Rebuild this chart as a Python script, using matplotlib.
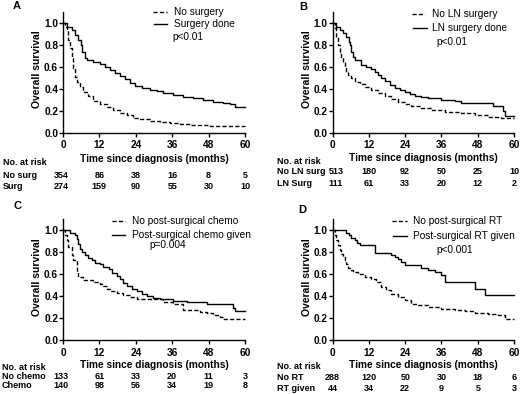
import matplotlib
matplotlib.use("Agg")
import matplotlib.pyplot as plt
from matplotlib.lines import Line2D
from matplotlib import transforms

W, H = 520, 394
plt.rcParams['font.family'] = ['Liberation Sans', 'DejaVu Sans']
plt.rcParams['font.size'] = 7.3

months = [0, 12, 24, 36, 48, 60]
y_ticks = [0.0, 0.2, 0.4, 0.6, 0.8, 1.0]

# --- A: surgery ---
a_nosurg_t = [0, 0.7, 1.2, 1.8, 2.3, 2.9, 3.4, 4.0, 4.5, 5.6, 6.7, 8.4, 10, 12.2, 14.4, 16.6, 18.8,
              21, 23.2, 25.4, 28.7, 32, 35.3, 38.6, 41.9, 45.2, 48.5, 51.8, 60]
a_nosurg_s = [1.0, 0.96, 0.93, 0.84, 0.77, 0.68, 0.59, 0.51, 0.46, 0.42, 0.37, 0.33, 0.29, 0.26, 0.23,
              0.206, 0.182, 0.161, 0.136, 0.122, 0.108, 0.097, 0.088, 0.081, 0.073, 0.068, 0.062, 0.06, 0.06]
a_surg_t = [0, 1.4, 2.9, 4.0, 5.1, 5.8, 6.2, 7.3, 7.8, 10, 12.2, 13.8, 15.5, 17.1, 18.8, 20.4, 22.1,
            23.7, 25.9, 28.7, 30.9, 33.1, 36.4, 39.7, 43, 46.3, 49.6, 52.9, 55, 56.7, 60]
a_surg_s = [1.0, 0.964, 0.933, 0.888, 0.842, 0.797, 0.736, 0.682, 0.661, 0.639, 0.621, 0.6, 0.57,
            0.539, 0.515, 0.488, 0.448, 0.427, 0.409, 0.388, 0.379, 0.358, 0.342, 0.327, 0.312,
            0.297, 0.282, 0.273, 0.258, 0.236, 0.236]
a_risk_no = [354, 86, 38, 16, 8, 5]
a_risk_yes = [274, 159, 90, 55, 30, 10]

# --- B: lymph node surgery ---
b_noln_t = [0, 0.66, 1.2, 1.76, 2.3, 2.9, 3.4, 4.0, 4.5, 5.1, 6.2, 7.3, 8.9, 10.6, 12.8, 15, 17.2,
            19.4, 21.6, 23.8, 26, 29.3, 32.6, 37, 42.6, 47, 51.4, 55.8, 60]
b_noln_s = [1.0, 0.948, 0.873, 0.797, 0.736, 0.691, 0.645, 0.6, 0.555, 0.524, 0.494, 0.464, 0.439,
            0.418, 0.388, 0.362, 0.334, 0.308, 0.283, 0.26, 0.243, 0.22, 0.207, 0.19, 0.175, 0.158,
            0.14, 0.13, 0.13]
b_ln_t = [0, 1.2, 2.3, 3.4, 4.5, 5.3, 5.6, 6.2, 6.7, 7.5, 9.5, 11.1, 12.8, 13.9, 15, 16.1, 17.2,
          18.9, 20.5, 22.2, 23.8, 25.5, 27.1, 29.3, 31.5, 35.9, 40.4, 42.6, 53, 56.3, 57.1, 60]
b_ln_s = [1.0, 0.964, 0.933, 0.903, 0.873, 0.827, 0.797, 0.736, 0.691, 0.661, 0.615, 0.595, 0.576,
          0.555, 0.524, 0.494, 0.47, 0.438, 0.41, 0.388, 0.37, 0.352, 0.335, 0.322, 0.312, 0.3,
          0.285, 0.273, 0.245, 0.195, 0.152, 0.152]
b_risk_no = [513, 180, 92, 50, 25, 10]
b_risk_yes = [111, 61, 33, 20, 12, 2]

# --- C: post-surgical chemo ---
c_nochemo_t = [0, 0.66, 1.2, 1.76, 2.86, 3.4, 4.5, 5.1, 6.7, 10, 12.2, 13.3, 14.4, 15.5, 17.7, 19.9,
               22.1, 24.3, 30.9, 33, 36.4, 39.7, 45.2, 47.4, 49.6, 51.8, 52.9, 60]
c_nochemo_s = [1.0, 0.955, 0.909, 0.848, 0.773, 0.727, 0.621, 0.576, 0.545, 0.53, 0.515, 0.494, 0.47,
               0.445, 0.43, 0.415, 0.394, 0.379, 0.373, 0.348, 0.333, 0.273, 0.258, 0.248, 0.233,
               0.212, 0.197, 0.197]
c_chemo_t = [0, 2.3, 4.0, 4.5, 5.1, 5.6, 6.2, 7.3, 8.4, 9.5, 10.5, 12.2, 13.3, 15, 16, 17.7, 18.8,
             19.9, 21, 22.6, 24.3, 25.9, 27.6, 29.8, 32, 36.4, 40.8, 47.4, 56.2, 56.8, 60]
c_chemo_s = [1.0, 0.976, 0.955, 0.924, 0.879, 0.833, 0.803, 0.775, 0.748, 0.726, 0.706, 0.692, 0.67,
             0.645, 0.615, 0.585, 0.553, 0.52, 0.49, 0.462, 0.445, 0.42, 0.4, 0.385, 0.372, 0.36,
             0.35, 0.333, 0.29, 0.265, 0.265]
c_risk_no = [133, 61, 33, 20, 11, 3]
c_risk_yes = [140, 98, 56, 34, 19, 8]

# --- D: post-surgical RT ---
d_nort_t = [0, 0.66, 1.2, 1.8, 2.3, 2.9, 3.4, 4.0, 4.5, 5.1, 5.6, 6.7, 8.4, 10.6, 12.8, 14.4, 16.1,
            17.8, 19.4, 21.6, 23.8, 26, 28.2, 31.5, 35.9, 40.4, 43.7, 47, 51.4, 54.7, 56.9, 60]
d_nort_s = [1.0, 0.955, 0.909, 0.864, 0.818, 0.788, 0.758, 0.727, 0.697, 0.658, 0.636, 0.621, 0.606,
            0.576, 0.555, 0.53, 0.485, 0.455, 0.424, 0.394, 0.364, 0.333, 0.318, 0.303, 0.288,
            0.279, 0.264, 0.252, 0.242, 0.227, 0.19, 0.19]
d_rt_t = [0, 4.5, 5.3, 6.2, 7.3, 8.2, 8.9, 13.9, 19.4, 20.5, 21.6, 22.7, 23.8, 29.3, 31.5, 33.7,
          35.9, 37, 47, 50.3, 60]
d_rt_s = [1.0, 0.976, 0.955, 0.93, 0.91, 0.888, 0.87, 0.797, 0.779, 0.758, 0.736, 0.712, 0.682,
          0.658, 0.636, 0.621, 0.597, 0.53, 0.47, 0.41, 0.41]
d_risk_no = [288, 120, 50, 30, 18, 6]
d_risk_yes = [44, 34, 22, 9, 5, 3]

# layout in figure pixels (from top-left)
panels = [
    dict(letter='A', letter_xy=(13, 6), ax_x=(63, 245), ax_y=(22.7, 132.7),
         curves=[(a_nosurg_t, a_nosurg_s), (a_surg_t, a_surg_s)],
         labels=['No surgery', 'Surgery done'], p='p<0.01',
         leg=[(153, 167, 11.7), (154, 167, 24.3)], leg_tx=174, p_xy=(172, 36.7),
         xlab_y=158.5, risk_x=2.7, risk_y=(162.8, 175.2, 186.7), first_dx=-1.3,
         risk_names=['No surg', 'Surg'], risk=[a_risk_no, a_risk_yes]),
    dict(letter='B', letter_xy=(299, 7.5), ax_x=(332.7, 514), ax_y=(22.7, 132.7),
         curves=[(b_noln_t, b_noln_s), (b_ln_t, b_ln_s)],
         labels=['No LN surgery', 'LN surgery done'], p='p<0.01',
         leg=[(412, 425, 14.3), (413, 427, 28.3)], leg_tx=432.5, p_xy=(436, 41.7),
         xlab_y=158, risk_x=276.7, risk_y=(162, 172, 183.3), first_dx=3.3,
         risk_names=['No LN surg', 'LN Surg'], risk=[b_risk_no, b_risk_yes]),
    dict(letter='C', letter_xy=(13, 206), ax_x=(63, 245), ax_y=(230.3, 340.3),
         curves=[(c_nochemo_t, c_nochemo_s), (c_chemo_t, c_chemo_s)],
         labels=['No post-surgical chemo', 'Post-surgical chemo given'], p='p=0.004',
         leg=[(112, 125, 221), (112, 125, 234.7)], leg_tx=131.7, p_xy=(149, 245.3),
         xlab_y=365, risk_x=1.5, risk_y=(367, 376.7, 386), first_dx=-2,
         risk_names=['No chemo', 'Chemo'], risk=[c_risk_no, c_risk_yes]),
    dict(letter='D', letter_xy=(298, 210), ax_x=(332.7, 514), ax_y=(230.3, 340.3),
         curves=[(d_nort_t, d_nort_s), (d_rt_t, d_rt_s)],
         labels=['No post-surgical RT', 'Post-surgical RT given'], p='p<0.001',
         leg=[(392, 407, 221.3), (393, 407, 236)], leg_tx=412.7, p_xy=(436, 249.7),
         xlab_y=365.3, risk_x=277.3, risk_y=(366.5, 377, 388.3), first_dx=0,
         risk_names=['No RT', 'RT given'], risk=[d_risk_no, d_risk_yes]),
]

styles = [(0, (3, 1.6)), '-']
table_fs = 6.5

fig = plt.figure(figsize=(W / 100, H / 100), dpi=100)


def fx(x):
    return x / W


def fy(y):
    return 1 - y / H


for pn in panels:
    x0, x1 = pn['ax_x']
    y1, y0 = pn['ax_y']
    top = y0 - 1.1 * (y0 - y1)
    ax = fig.add_axes([fx(x0), fy(y0), (x1 - x0) / W, (y0 - top) / H])

    for (t, s), ls in zip(pn['curves'], styles):
        ax.step(t, s, where='post', color='black', lw=1.0, ls=ls, clip_on=False)

    ax.set_xlim(0, 60)
    ax.set_ylim(0, 1.1)
    ax.set_xticks(months, labels=[str(m) for m in months], fontweight='bold')
    ax.set_yticks(y_ticks, labels=['%.1f' % v for v in y_ticks], fontweight='bold')
    ax.spines[['top', 'right']].set_visible(False)
    for side in ['left', 'bottom']:
        ax.spines[side].set_linewidth(1.0)
    ax.tick_params(axis='both', length=2.7, width=1.0, labelsize=7.3)
    ax.tick_params(axis='x', pad=2.5)
    ax.tick_params(axis='y', pad=0.8)

    ax.set_ylabel('Overall survival', fontweight='bold', fontsize=7.5)
    ax.yaxis.label.set_va('center')
    ax.yaxis.set_label_coords(-26 / (x1 - x0), 0.526)
    ax.set_xlabel('Time since diagnosis (months)', fontweight='bold', fontsize=7.3)
    ax.xaxis.label.set_va('center')
    ax.xaxis.set_label_coords(0.5, (y0 - pn['xlab_y']) / (y0 - top))

    # panel letter
    fig.text(fx(pn['letter_xy'][0]), fy(pn['letter_xy'][1]), pn['letter'],
             fontweight='bold', fontsize=8, ha='left', va='center')

    # legend drawn by hand
    for (lx0, lx1, ly), ls, lab in zip(pn['leg'], styles, pn['labels']):
        fig.add_artist(Line2D([fx(lx0), fx(lx1)], [fy(ly), fy(ly)], transform=fig.transFigure,
                              color='black', lw=1.0, ls=ls))
        fig.text(fx(pn['leg_tx']), fy(ly), lab, ha='left', va='center', fontsize=7.3)
    fig.text(fx(pn['p_xy'][0]), fy(pn['p_xy'][1]), pn['p'], ha='left', va='center', fontsize=7.3)

    # number at risk table
    trans = transforms.blended_transform_factory(ax.transData, fig.transFigure)
    ry = pn['risk_y']
    fig.text(fx(pn['risk_x']), fy(ry[0]), 'No. at risk', fontweight='bold', ha='left',
             va='center', fontsize=table_fs)
    for row, name, vals in zip(ry[1:], pn['risk_names'], pn['risk']):
        fig.text(fx(pn['risk_x']), fy(row), name, fontweight='bold', ha='left', va='center',
                 fontsize=table_fs)
        for i, (m, v) in enumerate(zip(months, vals)):
            tr = trans
            if i == 0:
                tr = trans + transforms.ScaledTranslation(pn['first_dx'] / 100, 0,
                                                          fig.dpi_scale_trans)
            ax.text(m, fy(row), str(v), transform=tr, fontweight='bold', fontsize=table_fs,
                    ha='center', va='center', clip_on=False)

fig.savefig('out.png', dpi=100)
